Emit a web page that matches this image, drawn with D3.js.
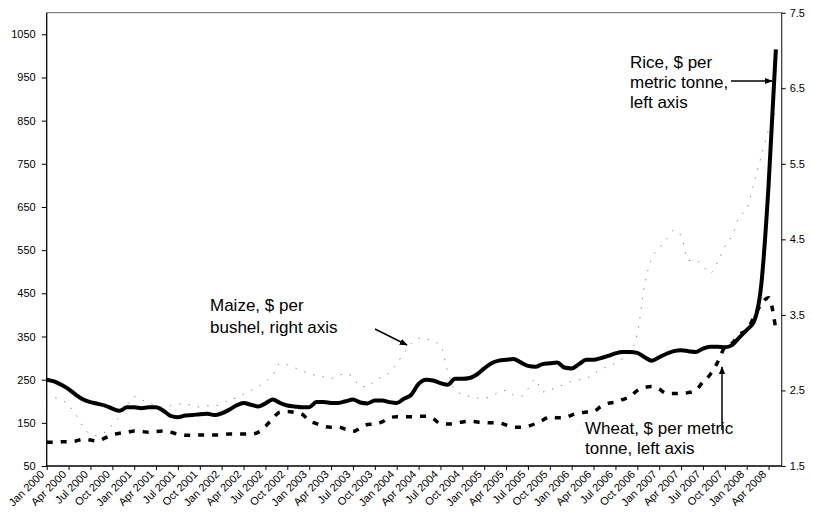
<!DOCTYPE html>
<html>
<head>
<meta charset="utf-8">
<script src="https://cdn.jsdelivr.net/npm/d3@7"></script>
<style>
  html, body { margin: 0; padding: 0; background: #fff; }
  svg { display: block; font-family: Arial, "Liberation Sans", sans-serif; }
</style>
</head>
<body>
<svg id="chart" width="813" height="527"></svg>
<script>
// ---- Data (monthly, Jan 2000 – May 2008) ----
const xTickLabels = [
  "Jan 2000","Apr 2000","Jul 2000","Oct 2000",
  "Jan 2001","Apr 2001","Jul 2001","Oct 2001",
  "Jan 2002","Apr 2002","Jul 2002","Oct 2002",
  "Jan 2003","Apr 2003","Jul 2003","Oct 2003",
  "Jan 2004","Apr 2004","Jul 2004","Oct 2004",
  "Jan 2005","Apr 2005","Jul 2005","Oct 2005",
  "Jan 2006","Apr 2006","Jul 2006","Oct 2006",
  "Jan 2007","Apr 2007","Jul 2007","Oct 2007",
  "Jan 2008","Apr 2008"
];

// Rice, $ per metric tonne (left axis)
const rice = [
  250,246,238,228,215,204,198,194,190,183,178,186,
  186,184,186,186,178,166,163,167,168,170,171,168,
  172,180,190,196,192,188,195,204,196,190,188,186,
  186,198,198,196,196,200,204,197,195,202,202,198,
  196,206,215,240,250,248,242,238,252,252,254,262,
  276,288,294,296,298,290,282,280,286,288,290,278,
  276,286,296,296,300,305,311,314,314,312,302,294,
  302,310,316,318,316,314,322,326,326,325,330,348,
  365,385,470,700,1015
];

// Wheat, $ per metric tonne (left axis)
const wheat = [
  105,105,106,106,108,112,110,108,115,122,126,128,
  131,130,128,130,131,128,124,121,121,122,122,122,
  122,124,124,124,124,128,142,160,175,176,174,170,
  155,148,142,140,140,135,130,138,146,147,152,162,
  164,164,164,165,165,160,148,147,149,152,154,152,
  151,150,150,145,140,140,142,148,156,164,162,162,
  168,173,175,176,188,195,198,204,211,225,232,234,
  228,218,218,218,220,225,245,262,290,325,334,355,
  364,395,425,440,365
];

// Maize, $ per bushel (right axis)
const maize = [
  2.35,2.40,2.38,2.30,2.18,2.02,1.92,1.90,1.95,2.05,2.15,2.30,
  2.42,2.38,2.33,2.30,2.28,2.30,2.32,2.32,2.30,2.28,2.30,2.30,
  2.32,2.38,2.40,2.45,2.50,2.55,2.62,2.70,2.86,2.84,2.80,2.76,
  2.72,2.70,2.68,2.66,2.70,2.72,2.68,2.55,2.55,2.64,2.68,2.74,
  2.85,3.00,3.12,3.19,3.18,3.15,3.10,2.75,2.50,2.45,2.42,2.40,
  2.40,2.42,2.48,2.50,2.44,2.42,2.52,2.65,2.48,2.50,2.55,2.58,
  2.62,2.64,2.66,2.72,2.78,2.82,2.86,2.92,3.00,3.25,3.90,4.25,
  4.38,4.50,4.62,4.55,4.22,4.22,4.15,4.05,4.20,4.40,4.55,4.80,
  4.90,5.25,5.60,5.95,6.20
];

const leftTicks = [50,150,250,350,450,550,650,750,850,950,1050];
const rightTicks = [1.5,2.5,3.5,4.5,5.5,6.5,7.5];

// ---- Layout ----
const svg = d3.select("#chart");
const L = 46.7, R = 781.7, T = 12.7, B = 466;

const x = d3.scaleLinear().domain([0, 100.8]).range([L, R]);
const yL = d3.scaleLinear().domain([50, 1100]).range([B, T]);
const yR = d3.scaleLinear().domain([1.5, 7.5]).range([B, T]);

// frame: top border
svg.append("line").attr("x1", L).attr("x2", R).attr("y1", T).attr("y2", T)
  .attr("stroke", "#666").attr("stroke-width", 1);

// Left axis
const gL = svg.append("g").attr("transform", `translate(${L},0)`)
  .call(d3.axisLeft(yL).tickValues(leftTicks).tickSize(5).tickPadding(6).tickFormat(d3.format("d")));
gL.select(".domain").attr("d", `M0,${T}V${B}`).attr("stroke", "#000").attr("stroke-width", 1.3);
gL.selectAll("text").attr("font-size", 11).attr("fill", "#000").attr("font-family", "Arial, 'Liberation Sans', sans-serif");

// Right axis
const gR = svg.append("g").attr("transform", `translate(${R},0)`)
  .call(d3.axisRight(yR).tickValues(rightTicks).tickSize(4).tickPadding(4).tickFormat(d3.format(".1f")));
gR.select(".domain").attr("d", `M0,${T}V${B}`).attr("stroke", "#333").attr("stroke-width", 1.2);
gR.selectAll("text").attr("font-size", 11).attr("fill", "#000").attr("font-family", "Arial, 'Liberation Sans', sans-serif");

// Bottom axis
const xTickIdx = xTickLabels.map((d, i) => i * 3);
const gB = svg.append("g").attr("transform", `translate(0,${B})`)
  .call(d3.axisBottom(x).tickValues(xTickIdx).tickSize(4).tickFormat((d, i) => xTickLabels[i]));
gB.select(".domain").attr("d", `M${L},0H${R}`).attr("stroke", "#000").attr("stroke-width", 1.3);
gB.selectAll("text")
  .attr("font-size", 11).attr("fill", "#000")
  .attr("font-family", "Arial, 'Liberation Sans', sans-serif")
  .attr("text-anchor", "end")
  .attr("dy", null)
  .attr("y", 0)
  .attr("transform", "translate(-2,9) rotate(-45)");

// ---- Series ----
const lineL = d3.line().x((d, i) => x(i)).y(d => yL(d)).curve(d3.curveMonotoneX);
const lineR = d3.line().x((d, i) => x(i)).y(d => yR(d)).curve(d3.curveMonotoneX);

svg.append("path").datum(maize).attr("d", lineR)
  .attr("fill", "none").attr("stroke", "#8a8a8a").attr("stroke-width", 1)
  .attr("stroke-dasharray", "1.5,8");

svg.append("path").datum(wheat).attr("d", lineL)
  .attr("fill", "none").attr("stroke", "#000").attr("stroke-width", 3.5)
  .attr("stroke-dasharray", "6,8");

svg.append("path").datum(rice).attr("d", lineL)
  .attr("fill", "none").attr("stroke", "#000").attr("stroke-width", 4)
  .attr("stroke-linejoin", "round");

// ---- Annotations ----
const defs = svg.append("defs");
defs.append("marker").attr("id", "arrow").attr("viewBox", "0 0 10 10")
  .attr("refX", 9).attr("refY", 5).attr("markerWidth", 8).attr("markerHeight", 8)
  .attr("markerUnits", "userSpaceOnUse").attr("orient", "auto")
  .append("path").attr("d", "M0,1L10,5L0,9Z").attr("fill", "#000");

const fontAnn = 17;
function label(lines, x0, y0, lh) {
  const t = svg.append("text").attr("x", x0).attr("y", y0)
    .attr("font-size", fontAnn).attr("fill", "#000");
  lines.forEach((s, i) => t.append("tspan").attr("x", x0).attr("y", y0 + i * lh).text(s));
}
label(["Maize, $ per", "bushel, right axis"], 210, 311, 22);
label(["Rice, $ per", "metric tonne,", "left axis"], 630, 68, 20);
label(["Wheat, $ per metric", "tonne, left axis"], 585, 434, 20);

function arrow(x1, y1, x2, y2) {
  svg.append("line").attr("x1", x1).attr("y1", y1).attr("x2", x2).attr("y2", y2)
    .attr("stroke", "#000").attr("stroke-width", 1.5).attr("marker-end", "url(#arrow)");
}
arrow(375, 329, 407, 345);
arrow(731, 81, 772, 81);
arrow(722, 430, 722, 367);
</script>
</body>
</html>
